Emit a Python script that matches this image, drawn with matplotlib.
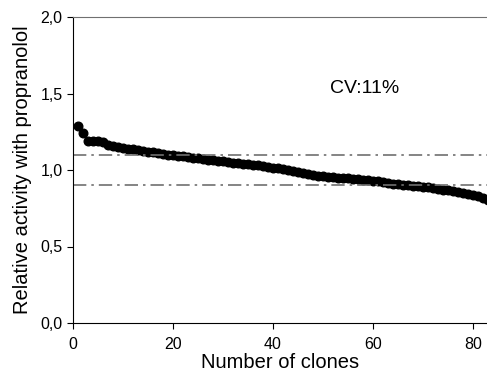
import numpy as np
import matplotlib.pyplot as plt
from matplotlib.ticker import FuncFormatter

plt.rcParams['font.family'] = ['Liberation Sans', 'DejaVu Sans']

clones = np.arange(1, 84)
activity = [1.29, 1.245, 1.19, 1.19, 1.19, 1.185, 1.165, 1.155, 1.15, 1.145,
            1.14, 1.135, 1.13, 1.125, 1.12, 1.115, 1.11, 1.105, 1.10, 1.097,
            1.094, 1.09, 1.085, 1.08, 1.076, 1.072, 1.068, 1.064, 1.06, 1.056,
            1.052, 1.048, 1.044, 1.04, 1.036, 1.033, 1.03, 1.026, 1.02, 1.015,
            1.01, 1.005, 1.0, 0.995, 0.99, 0.982, 0.975, 0.968, 0.962, 0.958,
            0.955, 0.952, 0.95, 0.948, 0.945, 0.942, 0.94, 0.937, 0.934, 0.93,
            0.925, 0.92, 0.915, 0.91, 0.906, 0.903, 0.9, 0.897, 0.894, 0.89,
            0.886, 0.882, 0.877, 0.872, 0.867, 0.862, 0.857, 0.851, 0.845, 0.838,
            0.83, 0.82, 0.805]
limits = [1.1, 0.9]
cv_text = "CV:11%"

fig = plt.figure(figsize=(4.87, 3.78), dpi=100)
ax = fig.add_axes([73/487, 55/378, (487-73)/487, 306/378])

ax.plot(clones, activity, 'o', color='black', markersize=6.2)
for v in limits:
    ax.axhline(v, color='#707070', lw=1.2, ls=(0, (8, 3, 1.5, 3)))

ax.text(58.4, 1.53, cv_text, fontsize=14, ha='center', va='center')

ax.set_xlim(0, 82.8)
ax.set_ylim(0, 2.0)
ax.set_xticks([0, 20, 40, 60, 80])
ax.set_yticks([0, 0.5, 1.0, 1.5, 2.0])
ax.yaxis.set_major_formatter(FuncFormatter(lambda v, p: f"{v:.1f}".replace('.', ',')))
ax.tick_params(direction='out', length=4, labelsize=11.5, width=0.8)
ax.tick_params(axis='x', pad=6)
ax.spines['right'].set_visible(False)
ax.spines['top'].set_color('#707070')
ax.set_xlabel("Number of clones", fontsize=14.5, labelpad=1)
ax.set_ylabel("Relative activity with propranolol", fontsize=14.5, labelpad=6)

fig.savefig('out.png', dpi=100)
